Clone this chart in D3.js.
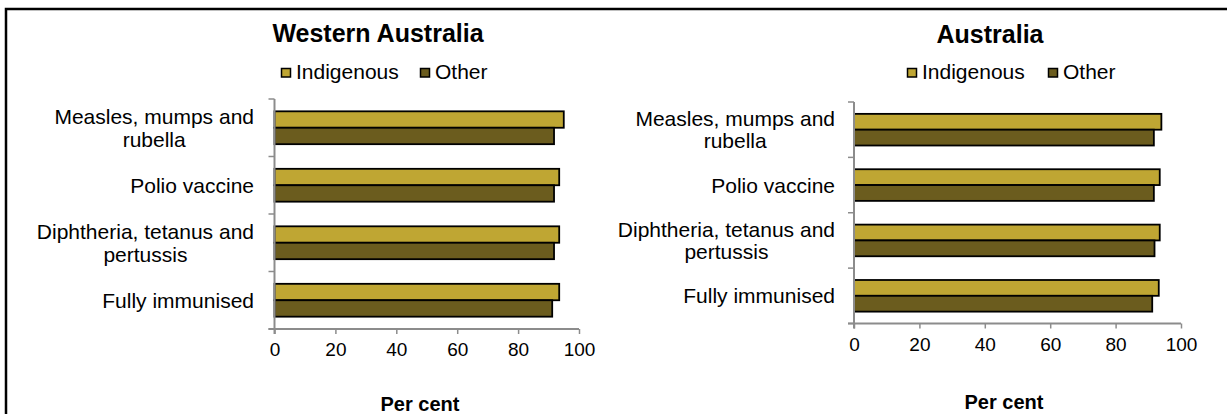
<!DOCTYPE html>
<html>
<head>
<meta charset="utf-8">
<script src="https://cdn.jsdelivr.net/npm/d3@7"></script>
<style>
html, body { margin: 0; padding: 0; background: #fff; }
svg { display: block; font-family: "Liberation Sans", Arial, sans-serif; }
</style>
</head>
<body>
<svg id="chart" width="1227" height="414"></svg>
<script>
// ---- data ----
const categories = [
  ["Measles, mumps and", "rubella"],
  ["Polio vaccine"],
  ["Diphtheria, tetanus and", "pertussis"],
  ["Fully immunised"]
];
const seriesNames = ["Indigenous", "Other"];
const waIndigenous = [95.0, 93.5, 93.5, 93.5];
const waOther      = [91.8, 91.8, 91.8, 91.2];
const ausIndigenous = [94.0, 93.5, 93.5, 93.2];
const ausOther      = [91.7, 91.7, 91.9, 91.2];
const xTicks = [0, 20, 40, 60, 80, 100];
const panelTitles = ["Western Australia", "Australia"];
const axisTitle = "Per cent";

const colors = { "Indigenous": "#BFA633", "Other": "#6B5C1E" };
const axisColor = "#8c8c8c";

const svg = d3.select("#chart");

// outer frame (left and top edges visible)
svg.append("path")
  .attr("d", "M6,414 V9 H1227")
  .attr("fill", "none").attr("stroke", "#000").attr("stroke-width", 2.5);

const panels = [
  { title: panelTitles[0], ind: waIndigenous, oth: waOther,
    x0: 274.5, x1: 579, y0: 99, y1: 329, labelX: 254,
    titleX: 378, titleY: 42, legX: 281, legX2: 420, legY: 68,
    axTitleX: 420, axTitleY: 411 },
  { title: panelTitles[1], ind: ausIndigenous, oth: ausOther,
    x0: 854, x1: 1181, y0: 102, y1: 323.5, labelX: 835,
    titleX: 990, titleY: 43, legX: 907, legX2: 1048, legY: 68,
    axTitleX: 1004, axTitleY: 409 }
];

panels.forEach(p => {
  const g = svg.append("g");
  const catIdx = categories.map((c, i) => i);
  const x = d3.scaleLinear().domain([0, 100]).range([p.x0, p.x1]);
  const y = d3.scaleBand().domain(catIdx).range([p.y0, p.y1]).padding(0);
  const ys = d3.scaleBand().domain(seriesNames).range([0, y.bandwidth()])
    .paddingInner(0).paddingOuter(0.75);

  // title
  g.append("text").attr("x", p.titleX).attr("y", p.titleY)
    .attr("text-anchor", "middle").attr("font-weight", "bold")
    .attr("font-size", 25).attr("fill", "#000").text(p.title);

  // legend
  [[p.legX, seriesNames[0]], [p.legX2, seriesNames[1]]].forEach(([lx, name]) => {
    g.append("rect").attr("x", lx + 0.5).attr("y", p.legY + 0.5)
      .attr("width", 9).attr("height", 8.5)
      .attr("fill", colors[name]).attr("stroke", "#000").attr("stroke-width", 1.5);
    g.append("text").attr("x", lx + 15).attr("y", p.legY + 11)
      .attr("font-size", 21).attr("fill", "#000").text(name);
  });

  // bars
  const data = [];
  catIdx.forEach(i => {
    data.push({ cat: i, s: "Indigenous", v: p.ind[i] });
    data.push({ cat: i, s: "Other", v: p.oth[i] });
  });
  g.selectAll("rect.bar").data(data).enter().append("rect")
    .attr("class", "bar")
    .attr("x", x(0))
    .attr("y", d => y(d.cat) + ys(d.s))
    .attr("width", d => x(d.v) - x(0))
    .attr("height", ys.bandwidth())
    .attr("fill", d => colors[d.s])
    .attr("stroke", "#000").attr("stroke-width", 1.8);

  // x axis
  const xa = g.append("g").attr("transform", `translate(0,${p.y1})`)
    .call(d3.axisBottom(x).tickValues(xTicks).tickSize(5).tickSizeOuter(0).tickPadding(9));
  xa.select(".domain").attr("stroke", axisColor).attr("stroke-width", 2)
    .attr("d", `M${p.x0 - 6},0H${p.x1}`);
  xa.selectAll(".tick line").attr("stroke", axisColor).attr("stroke-width", 1.5);
  xa.selectAll(".tick text").attr("font-size", 19).attr("fill", "#000")
    .attr("font-family", "Liberation Sans, Arial, sans-serif");

  // y axis line + ticks at category boundaries
  const bounds = catIdx.map(i => y(i)).concat([p.y1]);
  g.append("line").attr("x1", x(0)).attr("x2", x(0))
    .attr("y1", p.y0).attr("y2", p.y1 + 5)
    .attr("stroke", axisColor).attr("stroke-width", 2);
  g.selectAll("line.ytick").data(bounds).enter().append("line")
    .attr("class", "ytick")
    .attr("x1", x(0) - 6).attr("x2", x(0))
    .attr("y1", d => d).attr("y2", d => d)
    .attr("stroke", axisColor).attr("stroke-width", 1.5);

  // category labels: block right-aligned, lines centred within the block
  catIdx.forEach(i => {
    const lines = categories[i];
    const cy = y(i) + y.bandwidth() / 2;
    const lh = 22.5;
    const t = g.append("text").attr("text-anchor", "middle")
      .attr("font-size", 21).attr("fill", "#000");
    const spans = lines.map((ln, k) => t.append("tspan")
      .attr("y", cy + (k - (lines.length - 1) / 2) * lh + 7.5)
      .text(ln));
    const w = d3.max(spans, s => s.node().getComputedTextLength());
    spans.forEach(s => s.attr("x", p.labelX - w / 2));
  });

  // axis title
  g.append("text").attr("x", p.axTitleX).attr("y", p.axTitleY)
    .attr("text-anchor", "middle").attr("font-weight", "bold")
    .attr("font-size", 20).attr("fill", "#000").text(axisTitle);
});
</script>
</body>
</html>
